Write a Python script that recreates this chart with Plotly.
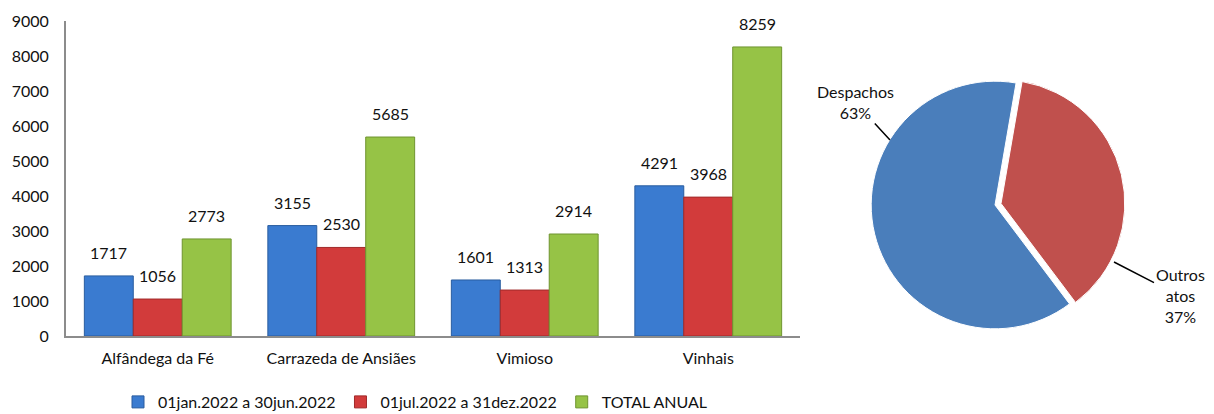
import plotly.graph_objects as go

categories = ["Alfândega da Fé", "Carrazeda de Ansiães", "Vimioso", "Vinhais"]
series_names = ["01jan.2022 a 30jun.2022", "01jul.2022 a 31dez.2022", "TOTAL ANUAL"]
first_half = [1717, 3155, 1601, 4291]
second_half = [1056, 2530, 1313, 3968]
total_year = [2773, 5685, 2914, 8259]

pie_labels = ["Despachos", "Outros atos"]
pie_values = [63, 37]

FONT = "Lato"
W, H = 1214, 414
X0, X1 = 66, 800      # bar plot horizontal extent (px)
Y0, Y1 = 21, 336      # bar plot vertical extent (px)
BARGAP = 0.2

bar_colors = ["#3a7bd0", "#d23b3b", "#96c346"]
bar_edges = ["#2a5d9f", "#a02a2a", "#6f9430"]


def px(x):
    return x / W


def py(y):
    return (H - y) / H


fig = go.Figure()
all_series = [first_half, second_half, total_year]
for name, vals, c, e in zip(series_names, all_series, bar_colors, bar_edges):
    fig.add_trace(go.Bar(
        x=categories, y=vals, name=name,
        marker=dict(color=c, line=dict(color=e, width=1)),
        hovertemplate="%{x}: %{y}<extra>" + name + "</extra>",
    ))

# value labels above bars (offset within each group derived from bar layout)
cat_w = (X1 - X0) / len(categories)
bar_w = cat_w * (1 - BARGAP) / len(all_series)
annotations = []
for i, vals in enumerate(all_series):
    shift = (i - (len(all_series) - 1) / 2) * bar_w
    for cat, v in zip(categories, vals):
        annotations.append(dict(
            x=cat, y=v, xref="x", yref="y", text=str(v), showarrow=False,
            xanchor="center", yanchor="bottom", xshift=shift, yshift=12,
            font=dict(family=FONT, size=16, color="#111"),
        ))

fig.add_trace(go.Pie(
    labels=pie_labels, values=pie_values, sort=False,
    direction="clockwise", rotation=143,
    marker=dict(colors=["#4a7ebb", "#c0504d"], line=dict(color="white", width=1)),
    pull=[0, 0.05], textinfo="none", showlegend=False, hoverinfo="label+percent",
    domain=dict(x=[px(865), px(1125)], y=[py(335), py(75)]),
))

annotations += [
    dict(x=px(890), y=py(140), xref="paper", yref="paper",
         text="Despachos<br>63%", showarrow=True, arrowhead=0, arrowwidth=1.5,
         arrowcolor="black", ax=-35, ay=-38, font=dict(family=FONT, size=16, color="#111")),
    dict(x=px(1114), y=py(262), xref="paper", yref="paper",
         text="Outros<br>atos<br>37%", showarrow=True, arrowhead=0, arrowwidth=1.5,
         arrowcolor="black", ax=66, ay=34, font=dict(family=FONT, size=16, color="#111")),
]

fig.update_layout(
    width=W, height=H,
    margin=dict(l=0, r=0, t=0, b=0, autoexpand=False),
    paper_bgcolor="white", plot_bgcolor="white",
    font=dict(family=FONT, size=16, color="#111"),
    barmode="group", bargap=BARGAP, bargroupgap=0,
    xaxis=dict(domain=[px(X0), px(X1)], anchor="y", showline=True, linecolor="#8c8c8c",
               linewidth=2, ticks="", showgrid=False, ticklabelstandoff=7, automargin=False,
               tickfont=dict(family=FONT, size=16, color="#111")),
    yaxis=dict(domain=[py(Y1), py(Y0)], anchor="x", range=[0, 9000], dtick=1000,
               showline=True, linecolor="#8c8c8c", linewidth=2, ticks="", showgrid=False,
               zeroline=False, ticklabelstandoff=12, automargin=False,
               tickfont=dict(family=FONT, size=16, color="#111")),
    legend=dict(orientation="h", x=px(415), xanchor="center", y=py(402), yanchor="middle",
                font=dict(family=FONT, size=16, color="#111"), itemwidth=30,
                bgcolor="rgba(0,0,0,0)"),
    annotations=annotations,
)

fig.write_html(
    "out.html",
    config={"displayModeBar": False},
    post_script="document.body.style.margin='0';document.body.style.overflow='hidden';",
)
